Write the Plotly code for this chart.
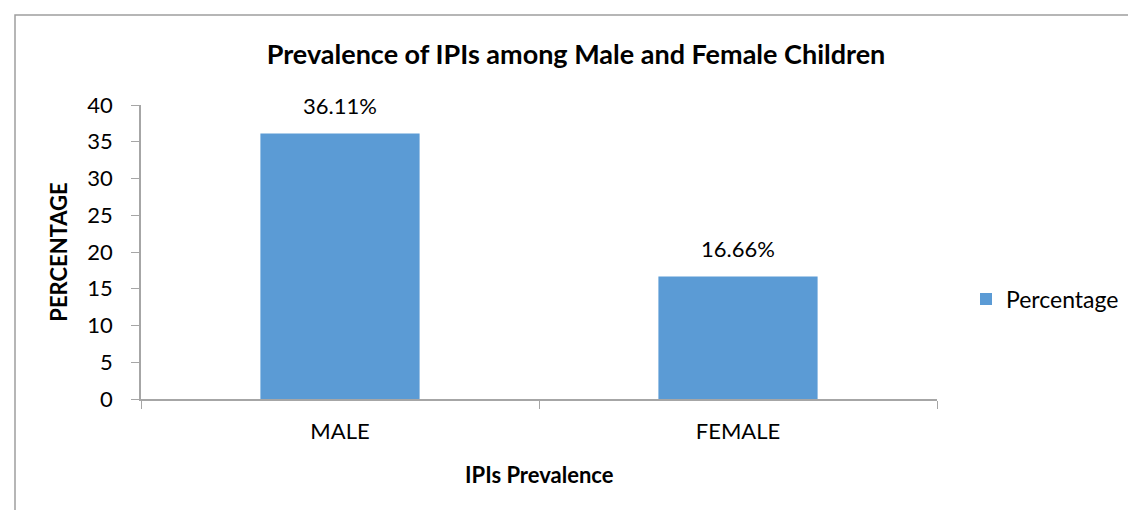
import plotly.graph_objects as go

# datos
categorias = ['MALE', 'FEMALE']
porcentajes = [36.11, 16.66]
etiquetas = ['36.11%', '16.66%']

W, H = 1136, 510
L, R, T, B = 133, 929, 97, 391
FONT = 'Lato'


def px(x):
    return (x - L) / (R - L)


def py(y):
    return (B - y) / (B - T)


fig = go.Figure()
fig.add_trace(go.Bar(
    x=categorias, y=porcentajes, name='Percentage',
    marker=dict(color='#5B9BD5', line=dict(width=0)),
    width=0.4,
))

# etiquetas de datos sobre las barras
for c, v, t in zip(categorias, porcentajes, etiquetas):
    fig.add_annotation(x=c, y=v, text=t, showarrow=False, yanchor='bottom',
                       yshift=13, font=dict(family=FONT, size=22, color='black'))

# titulo del eje x
fig.add_annotation(x=0.5, y=py(466), xref='paper', yref='paper',
                   text='<b>IPIs Prevalence</b>', showarrow=False,
                   yanchor='middle', font=dict(family=FONT, size=22, color='black'))

# borde del grafico
fig.add_shape(type='rect', xref='paper', yref='paper',
              x0=px(7), x1=px(1140), y0=py(7), y1=py(520),
              line=dict(color='#9e9e9e', width=1.5), fillcolor='rgba(0,0,0,0)')

fig.update_layout(
    width=W, height=H,
    margin=dict(l=L, r=W - R, t=T, b=H - B),
    paper_bgcolor='white', plot_bgcolor='white',
    font=dict(family=FONT, size=22, color='black'),
    title=dict(text='<b>Prevalence of IPIs among Male and Female Children</b>',
               x=0.5, xref='container', y=1 - 47 / H, yanchor='middle',
               font=dict(family=FONT, size=27, color='black')),
    showlegend=True,
    legend=dict(x=px(958), y=py(291), xanchor='left', yanchor='middle',
                font=dict(family=FONT, size=23), bgcolor='rgba(0,0,0,0)'),
    bargap=0.6,
)

fig.update_xaxes(
    showline=True, linecolor='#a6a6a6', linewidth=1.5,
    ticks='outside', tickson='boundaries', ticklen=8, tickcolor='#a6a6a6',
    ticklabelstandoff=12, showgrid=False,
)
fig.update_yaxes(
    range=[0, 40], dtick=5, showline=True, linecolor='#a6a6a6', linewidth=1.5,
    ticks='outside', ticklen=8, tickcolor='#a6a6a6', ticklabelstandoff=14,
    showgrid=False, zeroline=False,
    title=dict(text='<b>PERCENTAGE</b>', standoff=14,
               font=dict(family=FONT, size=22)),
)

fig.write_html('out.html')
